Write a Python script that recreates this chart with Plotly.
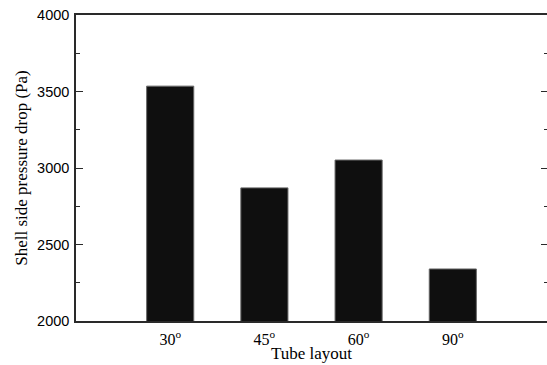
import plotly.graph_objects as go

# Shell side pressure drop for each tube layout angle
layouts = ["30<sup>o</sup>", "45<sup>o</sup>", "60<sup>o</sup>", "90<sup>o</sup>"]
positions = [1, 2, 3, 4]
pressure_drop = [3535, 2870, 3052, 2340]

y_ticks = [2000, 2500, 3000, 3500, 4000]

fig = go.Figure()
fig.add_trace(go.Bar(
    x=positions,
    y=pressure_drop,
    width=0.5,
    marker=dict(color="#0f0f0f", line=dict(color="#666666", width=1)),
    showlegend=False,
))
# Invisible trace carrying the right-hand tick marks
fig.add_trace(go.Scatter(x=[None], y=[None], yaxis="y2", showlegend=False))

axis_color = "#2a2a2a"
fig.update_layout(
    width=547,
    height=365,
    margin=dict(l=76, r=0, t=15, b=44),
    paper_bgcolor="white",
    plot_bgcolor="white",
    xaxis=dict(
        range=[0, 5],
        tickmode="array",
        tickvals=positions,
        ticktext=layouts,
        ticks="",
        showgrid=False,
        zeroline=False,
        showline=True,
        linecolor=axis_color,
        linewidth=1.5,
        mirror=True,
        ticklabelstandoff=3,
        tickfont=dict(family="Liberation Serif", size=16, color="black"),
    ),
    yaxis=dict(
        range=[2000, 4000],
        tickmode="array",
        tickvals=y_ticks,
        ticks="inside",
        ticklen=7,
        tickwidth=1.2,
        tickcolor=axis_color,
        minor=dict(dtick=250, ticks="inside", ticklen=4, tickwidth=1.2, tickcolor=axis_color),
        showgrid=False,
        zeroline=False,
        showline=True,
        linecolor=axis_color,
        linewidth=1.5,
        ticklabelstandoff=2,
        tickfont=dict(family="Liberation Sans", size=14.5, color="black"),
        title=dict(text="Shell side pressure drop (Pa)", standoff=5,
                   font=dict(family="Liberation Serif", size=17, color="black")),
    ),
    yaxis2=dict(
        overlaying="y",
        side="right",
        range=[2000, 4000],
        tickmode="array",
        tickvals=y_ticks,
        ticks="inside",
        ticklen=6,
        tickwidth=1.2,
        tickcolor=axis_color,
        minor=dict(dtick=250, ticks="inside", ticklen=3, tickwidth=1.2, tickcolor=axis_color),
        showticklabels=False,
        showgrid=False,
        zeroline=False,
        showline=False,
    ),
    annotations=[dict(
        text="Tube layout",
        xref="paper", yref="paper",
        x=0.5, y=-0.106,
        xanchor="center", yanchor="middle",
        showarrow=False,
        font=dict(family="Liberation Serif", size=17, color="black"),
    )],
)

fig.write_html("out.html")
